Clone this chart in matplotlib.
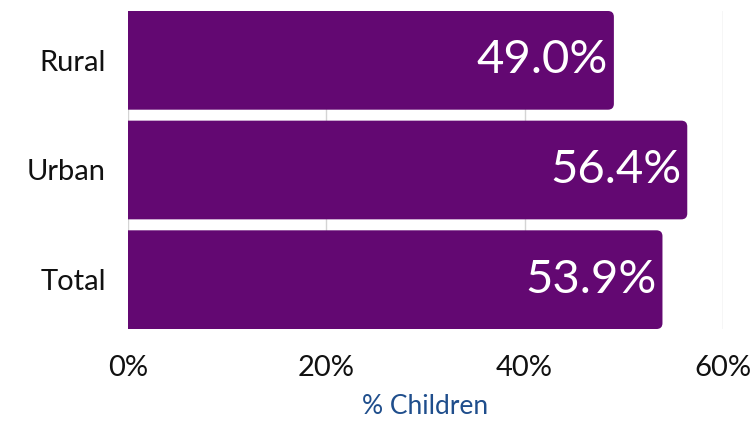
import matplotlib.pyplot as plt
from matplotlib.patches import FancyBboxPatch

categories = ['Rural', 'Urban', 'Total']
values = [49.0, 56.4, 53.9]
ticks = [0, 20, 40, 60]

purple = '#630872'
plt.rcParams['font.family'] = ['Lato', 'DejaVu Sans']

fig = plt.figure(figsize=(7.56, 4.21), dpi=100)
ax = fig.add_axes([0.1693, 0.2185, 0.7870, 0.7554])

ypos = list(range(len(categories)))
h = 0.9
# rounded box starting left of the axis, clipped at 0 -> only right corners round
for y, v in zip(ypos, values):
    p = FancyBboxPatch((-3, y - h / 2), v + 3, h,
                       boxstyle='round,pad=0,rounding_size=0.6',
                       mutation_aspect=0.09, fc=purple, ec='none', zorder=2)
    ax.add_patch(p)
    ax.text(v - 0.6, y, f'{v:.1f}%', color='white', fontsize=34,
            ha='right', va='center', zorder=3)

ax.set_xlim(0, 60)
ax.set_ylim(2.45, -0.45)
ax.set_yticks(ypos)
ax.set_yticklabels(categories)
ax.set_xticks(ticks)
ax.set_xticklabels([f'{t}%' for t in ticks])
ax.tick_params(axis='y', length=0, pad=16, labelsize=21, labelcolor='#111111')
ax.tick_params(axis='x', length=0, pad=19, labelsize=21, labelcolor='#111111')
ax.xaxis.grid(True, color='#d4d4d4', lw=1, zorder=0)
ax.set_axisbelow(True)
for s in ax.spines.values():
    s.set_visible(False)
ax.set_xlabel('% Children', color='#1f4e8c', fontsize=19, labelpad=9)

fig.savefig('out.png', dpi=100)
